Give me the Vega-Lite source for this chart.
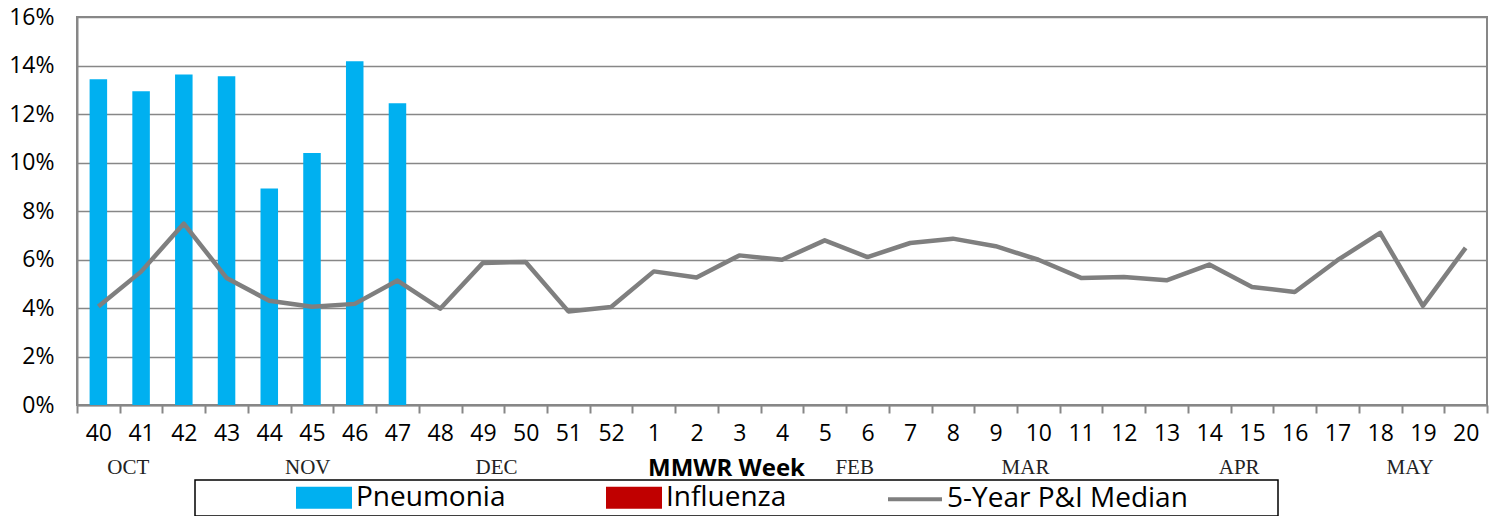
{
  "$schema": "https://vega.github.io/schema/vega-lite/v6.json",
  "width": 1410,
  "height": 388,
  "autosize": {"type": "none"},
  "padding": {"left": 77, "top": 17, "right": 12, "bottom": 111},
  "background": "white",
  "config": {
    "view": {"stroke": "#878787", "strokeWidth": 2},
    "font": "Open Sans"
  },
  "datasets": {
    "weeks": [
      {"week": "40", "pneumonia": 13.43, "median": 4.06},
      {"week": "41", "pneumonia": 12.94, "median": 5.5},
      {"week": "42", "pneumonia": 13.63, "median": 7.48},
      {"week": "43", "pneumonia": 13.56, "median": 5.24},
      {"week": "44", "pneumonia": 8.93, "median": 4.3},
      {"week": "45", "pneumonia": 10.39, "median": 4.05},
      {"week": "46", "pneumonia": 14.18, "median": 4.17},
      {"week": "47", "pneumonia": 12.44, "median": 5.13},
      {"week": "48", "median": 3.97},
      {"week": "49", "median": 5.86},
      {"week": "50", "median": 5.9},
      {"week": "51", "median": 3.86},
      {"week": "52", "median": 4.04},
      {"week": "1", "median": 5.51},
      {"week": "2", "median": 5.26},
      {"week": "3", "median": 6.17},
      {"week": "4", "median": 5.99},
      {"week": "5", "median": 6.79},
      {"week": "6", "median": 6.1},
      {"week": "7", "median": 6.68},
      {"week": "8", "median": 6.86},
      {"week": "9", "median": 6.55},
      {"week": "10", "median": 5.99},
      {"week": "11", "median": 5.24},
      {"week": "12", "median": 5.28},
      {"week": "13", "median": 5.14},
      {"week": "14", "median": 5.79},
      {"week": "15", "median": 4.87},
      {"week": "16", "median": 4.66},
      {"week": "17", "median": 5.97},
      {"week": "18", "median": 7.1},
      {"week": "19", "median": 4.09},
      {"week": "20", "median": 6.48}
    ],
    "months": [
      {"month": "OCT", "week": "41"},
      {"month": "NOV", "week": "45"},
      {"month": "DEC", "week": "49"},
      {"month": "FEB", "week": "6"},
      {"month": "MAR", "week": "10"},
      {"month": "APR", "week": "15"},
      {"month": "MAY", "week": "19"}
    ]
  },
  "layer": [
    {
      "data": {"name": "weeks"},
      "mark": {"type": "bar", "width": {"band": 0.41}},
      "encoding": {
        "x": {
          "field": "week",
          "type": "nominal",
          "sort": null,
          "scale": {
            "domain": ["40","41","42","43","44","45","46","47","48","49","50","51","52","1","2","3","4","5","6","7","8","9","10","11","12","13","14","15","16","17","18","19","20"],
            "paddingInner": 0,
            "paddingOuter": 0
          },
          "axis": {
            "title": "MMWR Week",
            "titleFont": "Open Sans",
            "titleFontSize": 24,
            "titleFontWeight": "bold",
            "titleColor": "black",
            "titleX": 649,
            "titleY": 70,
            "titleBaseline": "alphabetic",
            "labelAngle": 0,
            "labelFont": "Open Sans",
            "labelFontSize": 23,
            "labelColor": "black",
            "labelPadding": 9,
            "tickBand": "extent",
            "tickSize": 8,
            "tickColor": "#878787",
            "tickWidth": 2,
            "domainColor": "#878787",
            "domainWidth": 2,
            "grid": false
          }
        },
        "y": {
          "field": "pneumonia",
          "type": "quantitative",
          "scale": {"domain": [0, 16], "nice": false},
          "axis": {
            "values": [0, 2, 4, 6, 8, 10, 12, 14, 16],
            "labelExpr": "datum.value + '%'",
            "title": null,
            "grid": true,
            "gridColor": "#878787",
            "gridWidth": 1.5,
            "ticks": false,
            "labelPadding": 23,
            "labelFont": "Open Sans",
            "labelFontSize": 23,
            "labelColor": "black",
            "domainColor": "#878787",
            "domainWidth": 2
          }
        },
        "color": {
          "datum": "Pneumonia",
          "type": "nominal",
          "scale": {
            "domain": ["Pneumonia", "Influenza", "5-Year P&I Median"],
            "range": ["#00b0f0", "#c00000", "#7f7f7f"]
          },
          "legend": {
            "orient": "none",
            "legendX": 118,
            "legendY": 463,
            "direction": "horizontal",
            "title": null,
            "labelFont": "Open Sans",
            "labelFontSize": 28,
            "labelColor": "black",
            "labelLimit": 400,
            "labelOffset": 15.5,
            "symbolOffset": 111.5,
            "symbolSize": 841,
            "symbolStrokeWidth": 4,
            "columnPadding": -4,
            "padding": 1,
            "strokeColor": "black",
            "encode": {
              "legend": {"update": {"stroke": {"value": "black"}, "strokeWidth": {"value": 1.5}}},
              "symbols": {
                "update": {
                  "shape": {"signal": "datum.label === '5-Year P&I Median' ? 'M-1.862,0H1.862M24.4,0' : 'M-1.793,-0.621H1.793V0.621H-1.793Z'"},
                  "size": {"value": 841},
                  "fill": {"signal": "datum.label === 'Pneumonia' ? '#00b0f0' : datum.label === 'Influenza' ? '#c00000' : 'transparent'"},
                  "stroke": {"signal": "datum.label === '5-Year P&I Median' ? '#7f7f7f' : 'transparent'"},
                  "strokeWidth": {"value": 4},
                  "opacity": {"value": 1}
                }
              }
            }
          }
        }
      }
    },
    {
      "data": {"name": "weeks"},
      "mark": {"type": "line", "strokeWidth": 4.5, "strokeJoin": "round"},
      "encoding": {
        "x": {"field": "week", "type": "nominal", "sort": null},
        "y": {"field": "median", "type": "quantitative"},
        "color": {"datum": "5-Year P&I Median", "type": "nominal"}
      }
    },
    {
      "data": {"name": "months"},
      "transform": [{"filter": "indexof(['OCT','FEB','MAR','APR','MAY'], datum.month) >= 0"}],
      "mark": {"type": "text", "font": "Liberation Serif", "fontSize": 21, "color": "#222222", "baseline": "alphabetic", "align": "center"},
      "encoding": {
        "x": {"field": "week", "type": "nominal", "bandPosition": 0.2},
        "y": {"datum": -2.85, "type": "quantitative"},
        "text": {"field": "month"}
      }
    },
    {
      "data": {"name": "months"},
      "transform": [{"filter": "datum.month === 'NOV'"}],
      "mark": {"type": "text", "font": "Liberation Serif", "fontSize": 21, "color": "#222222", "baseline": "alphabetic", "align": "center"},
      "encoding": {
        "x": {"field": "week", "type": "nominal", "bandPosition": 0.4},
        "y": {"datum": -2.85, "type": "quantitative"},
        "text": {"field": "month"}
      }
    },
    {
      "data": {"name": "months"},
      "transform": [{"filter": "datum.month === 'DEC'"}],
      "mark": {"type": "text", "font": "Liberation Serif", "fontSize": 21, "color": "#222222", "baseline": "alphabetic", "align": "center"},
      "encoding": {
        "x": {"field": "week", "type": "nominal", "bandPosition": 0.82},
        "y": {"datum": -2.85, "type": "quantitative"},
        "text": {"field": "month"}
      }
    }
  ]
}
